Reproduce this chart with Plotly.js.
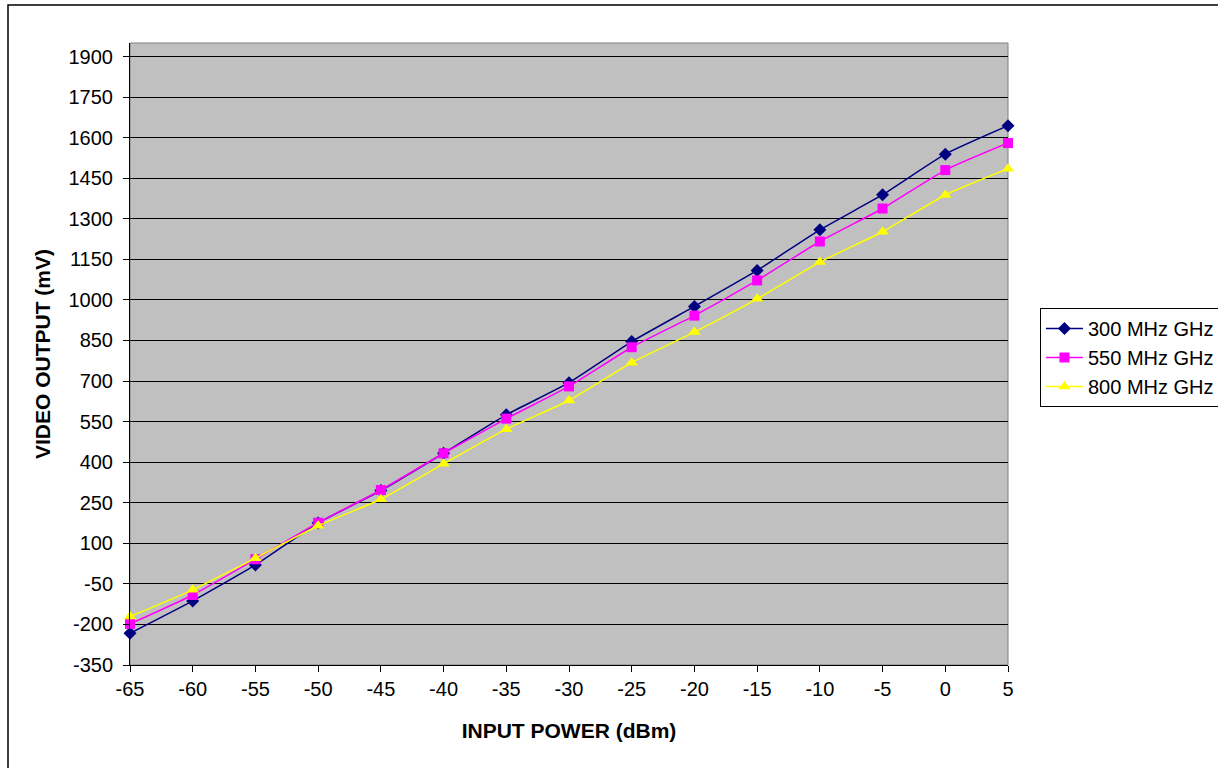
<!DOCTYPE html>
<html>
<head>
<meta charset="utf-8">
<script src="https://cdn.plot.ly/plotly-3.0.1.min.js"></script>
<style>html,body{margin:0;padding:0;background:#fff;}#chart{width:1218px;height:768px;}</style>
</head>
<body>
<div id="chart"></div>
<script>
const inputPower = [-65, -60, -55, -50, -45, -40, -35, -30, -25, -20, -15, -10, -5, 0, 5];
const out300 = [-233, -113, 20, 175, 295, 433, 575, 694, 846, 976, 1109, 1259, 1389, 1539, 1644];
const out550 = [-198, -91, 41, 176, 297, 433, 561, 680, 825, 942, 1072, 1216, 1338, 1480, 1580];
const out800 = [-171, -72, 45, 165, 263, 394, 522, 628, 768, 881, 1004, 1140, 1252, 1388, 1485];
const seriesNames = ['300 MHz GHz', '550 MHz GHz', '800 MHz GHz'];
const yTicks = [-350, -200, -50, 100, 250, 400, 550, 700, 850, 1000, 1150, 1300, 1450, 1600, 1750, 1900];
const xTicks = [-65, -60, -55, -50, -45, -40, -35, -30, -25, -20, -15, -10, -5, 0, 5];

const FONT = 'Liberation Sans, Arial, sans-serif';
function tr(y, name, color, symbol, size) {
  return {
    x: inputPower, y: y, name: name, type: 'scatter', mode: 'lines+markers',
    line: {color: color, width: 1.5, shape: 'spline', smoothing: 0.5},
    marker: {color: color, symbol: symbol, size: size, line: {width: 0}},
    cliponaxis: false
  };
}
const data = [
  tr(out300, seriesNames[0], '#000080', 'diamond', 10),
  tr(out550, seriesNames[1], '#FF00FF', 'square', 10),
  tr(out800, seriesNames[2], '#FFFF00', 'triangle-up', 11)
];
const layout = {
  width: 1218, height: 768,
  margin: {l: 130, r: 210, t: 43, b: 103, pad: 0, autoexpand: false},
  paper_bgcolor: '#ffffff',
  plot_bgcolor: '#C0C0C0',
  font: {family: FONT, size: 20, color: '#000'},
  showlegend: true,
  legend: {
    x: 1.0364, xanchor: 'left', y: 0.5740, yanchor: 'top',
    bgcolor: '#ffffff', bordercolor: '#000', borderwidth: 1,
    font: {family: FONT, size: 20, color: '#000'},
    tracegroupgap: 0, itemwidth: 37
  },
  xaxis: {
    range: [-65, 5], tickvals: xTicks, ticktext: xTicks.map(String),
    showgrid: false, zeroline: false, automargin: false,
    showline: true, linecolor: '#000', linewidth: 1,
    ticks: 'outside', ticklen: 6, tickcolor: '#000', tickwidth: 1,
    tickfont: {family: FONT, size: 20, color: '#000'},
    title: {text: '<b>INPUT POWER (dBm)</b>', font: {family: FONT, size: 21, color: '#000'}, standoff: 24}
  },
  yaxis: {
    range: [-350, 1950], tickvals: yTicks, ticktext: yTicks.map(String),
    showgrid: true, gridcolor: '#000', gridwidth: 1, zeroline: false, automargin: false,
    showline: true, linecolor: '#000', linewidth: 1,
    ticks: 'outside', ticklen: 6, tickcolor: '#000', tickwidth: 1,
    ticklabelstandoff: 6,
    tickfont: {family: FONT, size: 20, color: '#000'},
    title: {text: '<b>VIDEO OUTPUT (mV)</b>', font: {family: FONT, size: 21, color: '#000'}, standoff: 12}
  },
  shapes: [
    {type: 'rect', xref: 'paper', yref: 'paper', x0: 0, x1: 1, y0: 0, y1: 1,
     line: {color: '#808080', width: 1}, layer: 'below'},
    {type: 'rect', xref: 'paper', yref: 'paper', x0: (8 - 130) / 878, x1: (1230 - 130) / 878,
     y0: (665 - 780) / 622, y1: (665 - 5) / 622, line: {color: '#000', width: 1.5}, fillcolor: 'rgba(0,0,0,0)', layer: 'below'}
  ]
};
Plotly.newPlot('chart', data, layout, {displayModeBar: false, staticPlot: true});
</script>
</body>
</html>
